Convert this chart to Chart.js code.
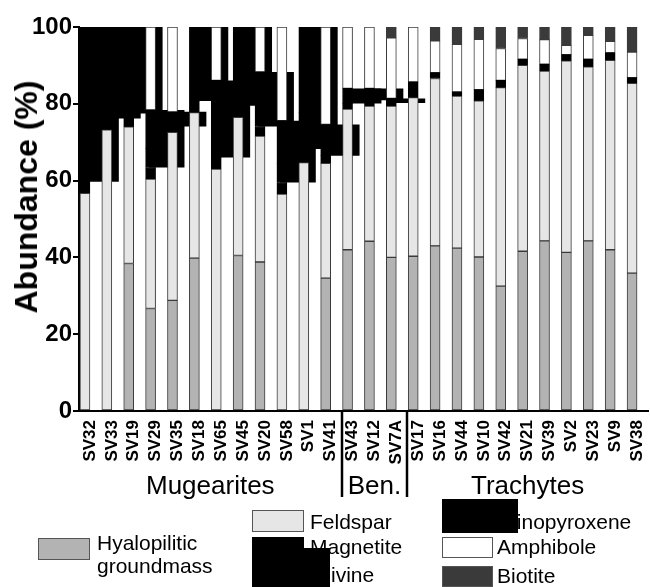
<!DOCTYPE html>
<html>
<head>
<meta charset="utf-8">
<script src="https://cdn.jsdelivr.net/npm/chart.js@4.4.1/dist/chart.umd.min.js"></script>
<style>
  html, body { margin: 0; padding: 0; background: #fff; }
  #wrap { position: relative; width: 650px; height: 587px; overflow: hidden; font-family: "Liberation Sans", Arial, sans-serif; color: #000; }
  canvas { position: absolute; left: 0; top: 0; }
  .grp { position: absolute; top: 470px; font-size: 26px; line-height: 30px; white-space: nowrap; transform: translateX(-50%); }
  .ytitle { position: absolute; left: 26px; top: 197px; font-size: 32px; font-weight: bold; line-height: 36px; white-space: nowrap; transform: translate(-50%, -50%) rotate(-90deg); }
  .lt { position: absolute; font-size: 21px; line-height: 24px; white-space: nowrap; }
  .sw { position: absolute; box-sizing: border-box; border: 1.5px solid #555; }
  .blob { position: absolute; background: #000; }
</style>
</head>
<body>
<div id="wrap">
  <canvas id="chart" width="650" height="587"></canvas>
  <div class="ytitle">Abundance (%)</div>

  <div class="sw" style="left:38px;top:538px;width:52px;height:22px;background:#b3b3b3"></div>
  <div class="lt" style="left:97px;top:531px">Hyalopilitic</div>
  <div class="lt" style="left:97px;top:554px">groundmass</div>

  <div class="sw" style="left:252px;top:510px;width:52px;height:22px;background:#e6e6e6"></div>
  <div class="lt" style="left:310px;top:510px">Feldspar</div>
  <div class="sw" style="left:252px;top:537px;width:52px;height:21px;background:#000;border-color:#000"></div>
  <div class="lt" style="left:310px;top:535px">Magnetite</div>
  <div class="lt" style="left:310px;top:563px">Olivine</div>
  <div class="blob" style="left:252px;top:548px;width:78px;height:39px"></div>

  <div class="lt" style="left:497px;top:510px">Clinopyroxene</div>
  <div class="blob" style="left:442px;top:499px;width:76px;height:34px"></div>
  <div class="sw" style="left:442px;top:537px;width:51px;height:21px;background:#fff"></div>
  <div class="lt" style="left:497px;top:535px">Amphibole</div>
  <div class="sw" style="left:442px;top:566px;width:51px;height:21px;background:#3a3a3a"></div>
  <div class="lt" style="left:497px;top:564px">Biotite</div>
</div>

<script>
// sample names, left to right
const samples = ['SV32', 'SV33', 'SV19', 'SV29', 'SV35', 'SV18', 'SV65', 'SV45', 'SV20', 'SV58', 'SV1', 'SV41',
                 'SV43', 'SV12', 'SV7A',
                 'SV17', 'SV16', 'SV44', 'SV10', 'SV42', 'SV21', 'SV39', 'SV2', 'SV23', 'SV9', 'SV38'];

// modal abundances (%)
const groundmass = [0, 0, 38.4, 26.7, 28.8, 39.8, 0, 40.5, 38.8, 0, 0, 34.6,
                    42.0, 44.2, 40.0,
                    40.3, 43.0, 42.4, 40.1, 32.5, 41.6, 44.3, 41.3, 44.3, 42.0, 35.9];
const feldspar = [56.7, 73.2, 35.6, 33.7, 43.8, 37.9, 63.0, 36.0, 32.8, 56.5, 64.7, 29.9,
                  36.6, 35.2, 39.4,
                  41.3, 43.6, 39.6, 40.7, 51.7, 48.4, 44.2, 49.9, 45.3, 49.3, 49.4];
const magnetite = [3.0, 3.0, 3.5, 3.0, 1.5, 3.0, 3.0, 3.0, 2.5, 3.0, 3.5, 2.0,
                   1.5, 1.5, 0.8,
                   4.1, 1.5, 1.1, 2.9, 1.9, 1.6, 1.8, 1.6, 2.0, 2.0, 1.5];
const olivine = [12.0, 8.0, 7.0, 5.0, 1.0, 6.0, 6.5, 6.0, 4.5, 5.0, 9.5, 2.5,
                 0, 0, 0,
                 0, 0, 0, 0, 0, 0, 0, 0, 0, 0, 0];
const clinopyroxene = [28.3, 15.8, 15.5, 10.0, 2.8, 13.3, 13.6, 14.5, 9.7, 11.1, 22.3, 5.6,
                       3.9, 3.1, 1.2,
                       0, 0, 0, 0, 0, 0, 0, 0, 0, 0, 0];
const amphibole = [0, 0, 0, 21.6, 22.1, 0, 13.9, 0, 11.7, 24.4, 0, 25.4,
                   16.0, 16.0, 15.8,
                   14.3, 8.3, 12.4, 13.1, 8.3, 5.4, 6.4, 2.4, 6.2, 3.0, 6.7];
const biotite = [0, 0, 0, 0, 0, 0, 0, 0, 0, 0, 0, 0,
                 0, 0, 2.8,
                 0, 3.6, 4.5, 3.2, 5.6, 3.0, 3.3, 4.8, 2.2, 3.7, 6.5];

const yTicks = [0, 20, 40, 60, 80, 100];

const groupNames = ['Mugearites', 'Ben.', 'Trachytes'];
const groupStart = [0, 12, 15];
const groupEnd = [11, 14, 25];

const FONT = '"Liberation Sans", Arial, sans-serif';
const nz = arr => arr.map(v => (v > 0 ? v : null));

// the patterned olivine + clinopyroxene fills bleed out to the right of the bars
const spill = samples.map((_, i) => {
    const lo = groundmass[i] + feldspar[i] + magnetite[i];
    const hi = lo + olivine[i] + clinopyroxene[i];
    return hi > lo ? [lo, hi] : null;
});

const seg = (label, data, fill, edge) => ({
    label: label,
    data: nz(data),
    backgroundColor: fill,
    borderColor: edge || '#3a3a3a',
    borderWidth: 1,
    borderSkipped: false,
    barThickness: 10,
    xAxisID: 'x',
    order: 0,
});

const separators = {
    id: 'separators',
    afterDraw(chart) {
        const { ctx, chartArea } = chart;
        const xs = chart.scales.x;
        ctx.save();
        ctx.strokeStyle = '#000';
        ctx.lineWidth = 2.5;
        groupStart.slice(1).forEach(s => {
            const px = Math.round(xs.getPixelForValue(s - 0.5));
            ctx.beginPath();
            ctx.moveTo(px, chartArea.bottom);
            ctx.lineTo(px, 497);
            ctx.stroke();
        });
        ctx.restore();
    },
};

const chart = new Chart(document.getElementById('chart'), {
    type: 'bar',
    data: {
        labels: samples,
        datasets: [
            seg('Hyalopilitic groundmass', groundmass, '#b3b3b3'),
            seg('Feldspar', feldspar, '#e6e6e6'),
            seg('Magnetite', magnetite, '#000', '#000'),
            seg('Olivine', olivine, '#000', '#000'),
            seg('Clinopyroxene', clinopyroxene, '#000', '#000'),
            seg('Amphibole', amphibole, '#fff'),
            seg('Biotite', biotite, '#3a3a3a'),
            {
                label: 'spill',
                data: [null].concat(spill),
                backgroundColor: '#000',
                borderWidth: 0,
                grouped: false,
                categoryPercentage: 1,
                barPercentage: 1.64,
                xAxisID: 'xs',
                order: 1,
            },
        ],
    },
    options: {
        responsive: false,
        animation: false,
        devicePixelRatio: 1,
        layout: { padding: { left: 0, top: 27, right: 2, bottom: 0 } },
        plugins: { legend: { display: false }, tooltip: { enabled: false } },
        scales: {
            x: {
                stacked: true,
                offset: true,
                grid: { display: false, drawTicks: false },
                border: { display: true, color: '#000', width: 2 },
                ticks: {
                    autoSkip: false,
                    minRotation: 90,
                    maxRotation: 90,
                    padding: 9,
                    color: '#000',
                    font: { family: FONT, size: 17, weight: 'bold' },
                },
                afterFit: s => { s.height = 176; s.paddingLeft = 0; s.paddingRight = 0; },
            },
            xs: {
                type: 'category',
                labels: [''].concat(samples),
                offset: false,
                min: 0,
                max: samples.length,
                display: false,
            },
            y: {
                stacked: true,
                min: 0,
                max: 100,
                afterBuildTicks: s => { s.ticks = yTicks.map(v => ({ value: v })); },
                grid: { drawOnChartArea: false, drawTicks: true, tickLength: 6, color: '#000', lineWidth: 2 },
                border: { display: true, color: '#000', width: 2 },
                ticks: {
                    padding: 1,
                    color: '#000',
                    font: { family: FONT, size: 24, weight: 'bold' },
                },
                afterFit: s => { s.width = 79; },
            },
        },
    },
    plugins: [separators],
});

// group names under the sample labels
const wrap = document.getElementById('wrap');
groupNames.forEach((name, g) => {
    const el = document.createElement('div');
    el.className = 'grp';
    el.textContent = name;
    const mid = (groupStart[g] + groupEnd[g]) / 2;
    el.style.left = chart.scales.x.getPixelForValue(mid) + 'px';
    wrap.appendChild(el);
});
</script>
</body>
</html>
